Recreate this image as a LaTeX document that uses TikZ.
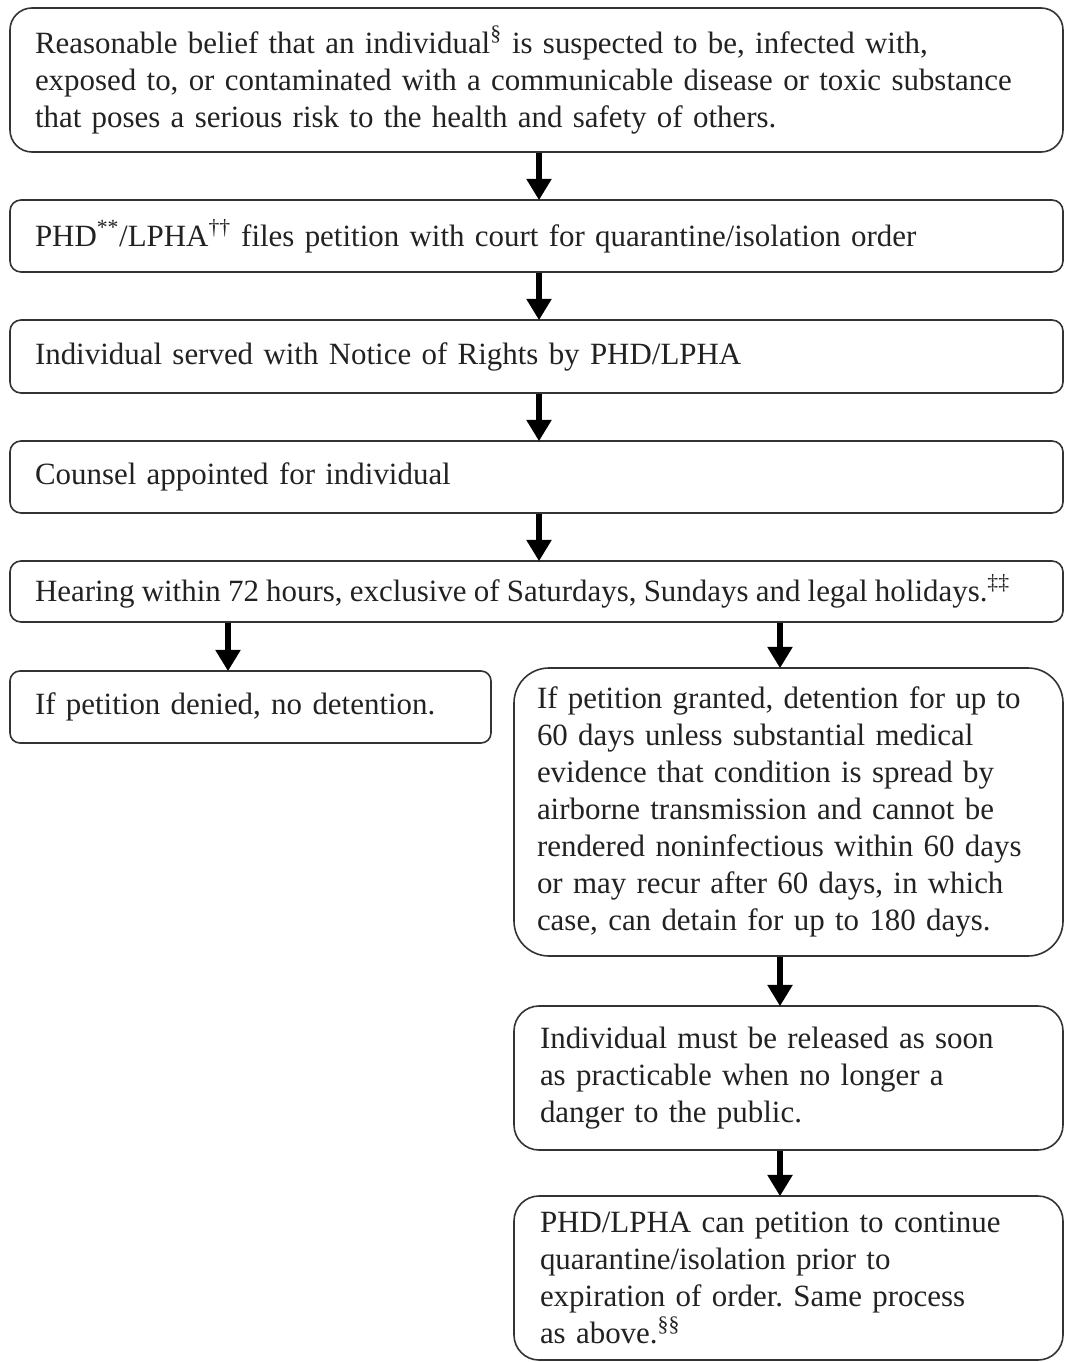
\documentclass[tikz,border=0pt]{standalone}
\usepackage{fontspec}
\setmainfont{Liberation Serif}
\usetikzlibrary{arrows.meta}
\newlength\pxu
\setlength\pxu{0.75pt}
\definecolor{ink}{HTML}{222222}
\definecolor{edge}{HTML}{333333}
\begin{document}
\frenchspacing
\begin{tikzpicture}[x=0.75pt,y=-0.75pt,
  box/.style={draw=edge, line width=1.6\pxu, fill=white, text=ink, align=left,
    inner ysep=0pt, font=\fontsize{23.2}{27.75}\selectfont},
  wide/.style={box, minimum width=1053\pxu, text width=1003\pxu, inner xsep=25\pxu, rounded corners=11\pxu},
  rbox/.style={box, minimum width=549\pxu, text width=503\pxu, inner xsep=23\pxu},
  arr/.style={draw=black, line width=4.5pt, -{Triangle[width=18pt,length=16pt]}, shorten >=-0.75pt}
]
\useasboundingbox (0,0) rectangle (1065,1362);

\node[wide, minimum height=144\pxu, rounded corners=22\pxu] (b1) at (536.5,80)
  {Reasonable belief that an individual\textsuperscript{§} is suspected to be, infected with,\\
   exposed to, or contaminated with a communicable disease or toxic substance\\
   that poses a serious risk to the health and safety of others.};
\node[wide, minimum height=72\pxu] (b2) at (536.5,236)
  {PHD\textsuperscript{**}/LPHA\textsuperscript{††} files petition with court for quarantine/isolation order};
\node[wide, minimum height=73\pxu] (b3) at (536.5,356.5)
  {Individual served with Notice of Rights by PHD/LPHA};
\node[wide, minimum height=72\pxu] (b4) at (536.5,477)
  {Counsel appointed for individual};
\node[wide, minimum height=61\pxu] (b5) at (536.5,591.5)
  {\hbox{\spaceskip=0.93\fontdimen2\font plus 0.1em minus 0.05em Hearing within 72 hours, exclusive of Saturdays, Sundays and legal holidays.\textsuperscript{‡‡}}};

\node[box, minimum width=481\pxu, text width=431\pxu, inner xsep=25\pxu, minimum height=72\pxu,
  rounded corners=10\pxu] (bl) at (250.5,707)
  {If petition denied, no detention.};

\node[rbox, minimum height=288\pxu, rounded corners=35\pxu] (r1) at (788.5,812)
  {If petition granted, detention for up to\\
   60 days unless substantial medical\\
   evidence that condition is spread by\\
   airborne transmission and cannot be\\
   rendered noninfectious within 60 days\\
   or may recur after 60 days, in which\\
   case, can detain for up to 180 days.};
\node[rbox, minimum height=144\pxu, rounded corners=25\pxu, inner xsep=26\pxu, text width=497\pxu] (r2) at (788.5,1078)
  {Individual must be released as soon\\
   as practicable when no longer a\\
   danger to the public.};
\node[rbox, minimum height=164\pxu, rounded corners=25\pxu, inner xsep=26\pxu, text width=497\pxu] (r3) at (788.5,1278)
  {PHD/LPHA can petition to continue\\
   quarantine/isolation prior to\\
   expiration of order. Same process\\
   as above.\textsuperscript{§§}};

\coordinate (xc) at (539,0);
\coordinate (xl) at (228,0);
\coordinate (xr) at (780,0);

\draw[arr] (b1.south -| xc) -- (b2.north -| xc);
\draw[arr] (b2.south -| xc) -- (b3.north -| xc);
\draw[arr] (b3.south -| xc) -- (b4.north -| xc);
\draw[arr] (b4.south -| xc) -- (b5.north -| xc);
\draw[arr] (b5.south -| xl) -- (bl.north -| xl);
\draw[arr] (b5.south -| xr) -- (r1.north -| xr);
\draw[arr] (r1.south -| xr) -- (r2.north -| xr);
\draw[arr] (r2.south -| xr) -- (r3.north -| xr);
\end{tikzpicture}
\end{document}
